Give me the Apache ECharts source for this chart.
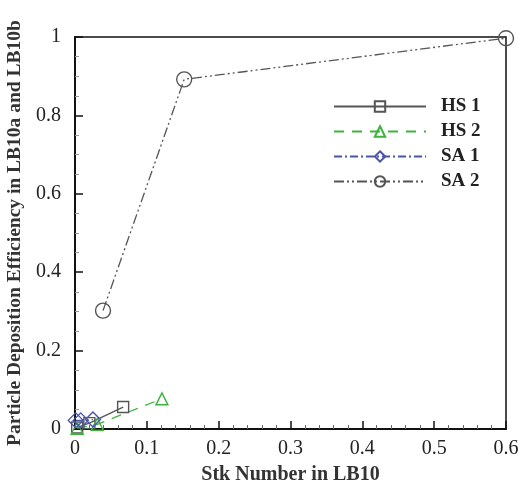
<!DOCTYPE html>
<html>
<head>
<meta charset="utf-8">
<script src="https://cdn.jsdelivr.net/npm/echarts@6/dist/echarts.min.js"></script>
<style>
  html, body { margin: 0; padding: 0; background: #fff; }
  #chart { width: 520px; height: 488px; }
</style>
</head>
<body>
<div id="chart"></div>
<script>
const font = '"Liberation Serif", "DejaVu Serif", serif'

// values: [Stk number, efficiency]
const hs1 = [[0.003, 0.004], [0.02, 0.015], [0.067, 0.056]]
const hs2 = [[0.003, 0.002], [0.031, 0.012], [0.121, 0.077]]
const sa1 = [[0.001, 0.022], [0.008, 0.022], [0.025, 0.024]]
const sa2 = [[0.039, 0.302], [0.152, 0.892], [0.6, 0.997]]

const mk = (name, data, color, symbol, size, dash) => ({
  name, data, type: 'line',
  symbol, symbolSize: size,
  lineStyle: { color, width: 1.3, type: dash },
  itemStyle: { color: 'transparent', borderColor: color, borderWidth: 1.4 },
  emphasis: { disabled: true },
  clip: false,
})

const chart = echarts.init(document.getElementById('chart'))
chart.setOption({
  animation: false,
  backgroundColor: '#fff',
  grid: {
    left: 75, right: 14, top: 37, bottom: 59, containLabel: false, outerBoundsMode: 'none',
    show: true, borderColor: '#111', borderWidth: 1.5,
  },
  legend: {
    orient: 'vertical', left: 328, top: 92, itemGap: 6,
    itemWidth: 92, itemHeight: 13,
    textStyle: { fontFamily: font, fontWeight: 'bold', fontSize: 19, color: '#222', padding: [0, 0, 0, 10] },
  },
  xAxis: {
    type: 'value', min: 0, max: 0.6, interval: 0.1,
    name: 'Stk Number in LB10', nameLocation: 'middle', nameGap: 36,
    nameTextStyle: { fontFamily: font, fontWeight: 'bold', fontSize: 20, color: '#333' },
    axisLine: { lineStyle: { color: '#111', width: 2 } },
    axisTick: { inside: true, length: 8, lineStyle: { color: '#111', width: 1.5 } },
    minorTick: { show: true, splitNumber: 5, length: 4, lineStyle: { color: '#666' } },
    splitLine: { show: false },
    axisLabel: { fontFamily: font, fontSize: 20, color: '#222', margin: 10 },
  },
  yAxis: {
    type: 'value', min: 0, max: 1, interval: 0.2,
    name: 'Particle Deposition Efficiency in LB10a and LB10b', nameLocation: 'middle', nameGap: 50,
    nameTextStyle: { fontFamily: font, fontWeight: 'bold', fontSize: 19.5, color: '#333' },
    axisLine: { lineStyle: { color: '#111', width: 2 } },
    axisTick: { inside: true, length: 8, lineStyle: { color: '#111', width: 1.5 } },
    minorTick: { show: true, splitNumber: 4, length: 4, lineStyle: { color: '#999' } },
    splitLine: { show: false },
    axisLabel: { fontFamily: font, fontSize: 20, color: '#222', margin: 14 },
  },
  series: [
    mk('HS 1', hs1, '#555', 'rect', 11, 'solid'),
    mk('HS 2', hs2, '#3cb43c', 'triangle', 12, [10, 8]),
    mk('SA 1', sa1, '#4a55a8', 'diamond', 15, [8, 3, 2, 3]),
    mk('SA 2', sa2, '#555', 'circle', 15, [10, 3, 2, 3, 2, 3]),
  ],
})
</script>
</body>
</html>
